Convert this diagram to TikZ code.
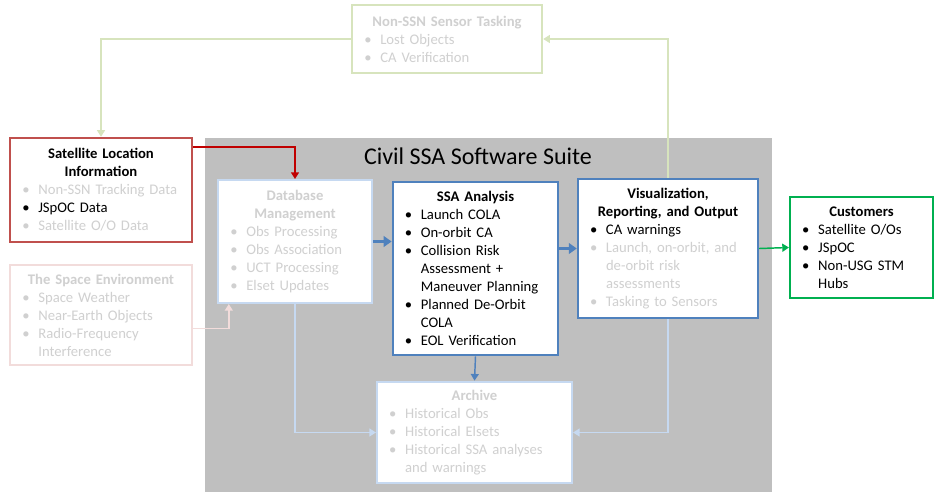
\documentclass[tikz,border=0pt]{standalone}
\usepackage{fontspec}
\setmainfont{Carlito}
\usetikzlibrary{arrows.meta}

\definecolor{suitegray}{HTML}{BFBFBF}
\definecolor{fade}{HTML}{D0D0D0}
\definecolor{locred}{HTML}{C0504D}
\definecolor{arrowred}{HTML}{C00000}
\definecolor{palepink}{HTML}{F2DCDB}
\definecolor{palegreen}{HTML}{D7E4BD}
\definecolor{ssablue}{HTML}{4F81BD}
\definecolor{paleblue}{HTML}{C6D9F1}
\definecolor{custgreen}{HTML}{00B050}

% one bullet line, optional colour
\newcommand\blt[2][black]{\par\noindent\hangindent=16pt\hangafter=1%
  {\color{#1}\makebox[16pt][l]{\hspace{4pt}\textbullet}#2}\par}
% centred bold heading
\newcommand\hd[2][black]{{\centering\bfseries\color{#1}#2\par}}

\tikzset{
  box/.style={draw, line width=1.8pt, fill=white, inner xsep=4pt, inner ysep=3pt,
    align=left, font=\fontsize{11}{13.5}\selectfont},
  conn/.style={line width=1.1pt, -{Triangle[length=5pt,width=6pt]}},
  flow/.style={line width=2.2pt, draw=ssablue, -{Triangle[length=6pt,width=8pt]}},
}

\begin{document}
\begin{tikzpicture}[x=0.75pt,y=-0.75pt]
\useasboundingbox (0,0) rectangle (934,493);
\fill[suitegray] (205,138) rectangle (772,492);
\node[font=\fontsize{18}{21}\selectfont] (suite) at (478,156) {Civil SSA Software Suite};

\node[box, draw=palegreen, minimum width=142.5pt, minimum height=51pt, text width=132pt] (nonssn) at (447,39)
  {\hd[fade]{Non-SSN Sensor Tasking}\blt[fade]{Lost Objects}\blt[fade]{CA Verification}};
\node[box, draw=locred, minimum width=136.5pt, minimum height=78pt, text width=126pt] (satloc) at (101,190)
  {\hd{Satellite Location\\Information}\blt[fade]{Non-SSN Tracking Data}\blt{JSpOC Data}\blt[fade]{Satellite O/O Data}};
\node[box, draw=palepink, minimum width=136.5pt, minimum height=75pt, text width=126pt] (spaceenv) at (101,315)
  {\hd[fade]{The Space Environment}\blt[fade]{Space Weather}\blt[fade]{Near-Earth Objects}\blt[fade]{Radio-Frequency\newline Interference}};
\node[box, draw=paleblue, minimum width=115.5pt, minimum height=92pt, text width=105pt] (dbm) at (295,241.5)
  {\hd[fade]{Database\\Management}\blt[fade]{Obs Processing}\blt[fade]{Obs Association}\blt[fade]{UCT Processing}\blt[fade]{Elset Updates}};
\node[box, draw=ssablue, minimum width=124pt, minimum height=130pt, text width=114pt] (ssa) at (475.5,268.5)
  {\hd{SSA Analysis}\blt{Launch COLA}\blt{On-orbit CA}\blt{Collision Risk\newline Assessment +\newline Maneuver Planning}\blt{Planned De-Orbit\newline COLA}\blt{EOL Verification}};
\node[box, draw=ssablue, minimum width=135pt, minimum height=104pt, text width=125pt] (vis) at (668,248.5)
  {\hd{Visualization,\\Reporting, and Output}\blt{CA warnings}\blt[fade]{Launch, on-orbit, and\newline de-orbit risk\newline assessments}\blt[fade]{Tasking to Sensors}};
\node[box, draw=custgreen, minimum width=107pt, minimum height=76pt, text width=97pt] (cust) at (861.5,247.5)
  {\hd{Customers}\blt{Satellite O/Os}\blt{JSpOC}\blt{Non-USG STM\newline Hubs}};
\node[box, draw=paleblue, minimum width=146pt, minimum height=76pt, text width=136pt] (archive) at (474.5,432.5)
  {\hd[fade]{Archive}\blt[fade]{Historical Obs}\blt[fade]{Historical Elsets}\blt[fade]{Historical SSA analyses\newline and warnings}};

% inputs
\draw[conn, arrowred] ([yshift=-7.5pt]satloc.north east) -| (dbm.north);
\draw[conn, palepink] ([yshift=-10pt]spaceenv.east) -| ([xshift=9pt]dbm.south west);
% main flow
\draw[flow] (dbm.east) -- (dbm.east -| ssa.west);
\draw[flow] (vis.west -| ssa.east) -- (vis.west);
\draw[conn, ssablue] (ssa.south) -- (archive.north);
\draw[conn, custgreen] (vis.east) -- (cust.west);
% archive and tasking
\draw[conn, paleblue] (dbm.south) |- (archive.west);
\draw[conn, paleblue] (vis.south) |- (archive.east);
\draw[conn, palegreen] (vis.north) |- (nonssn.east);
\draw[conn, palegreen] (nonssn.west) -| (satloc.north);
\end{tikzpicture}
\end{document}
